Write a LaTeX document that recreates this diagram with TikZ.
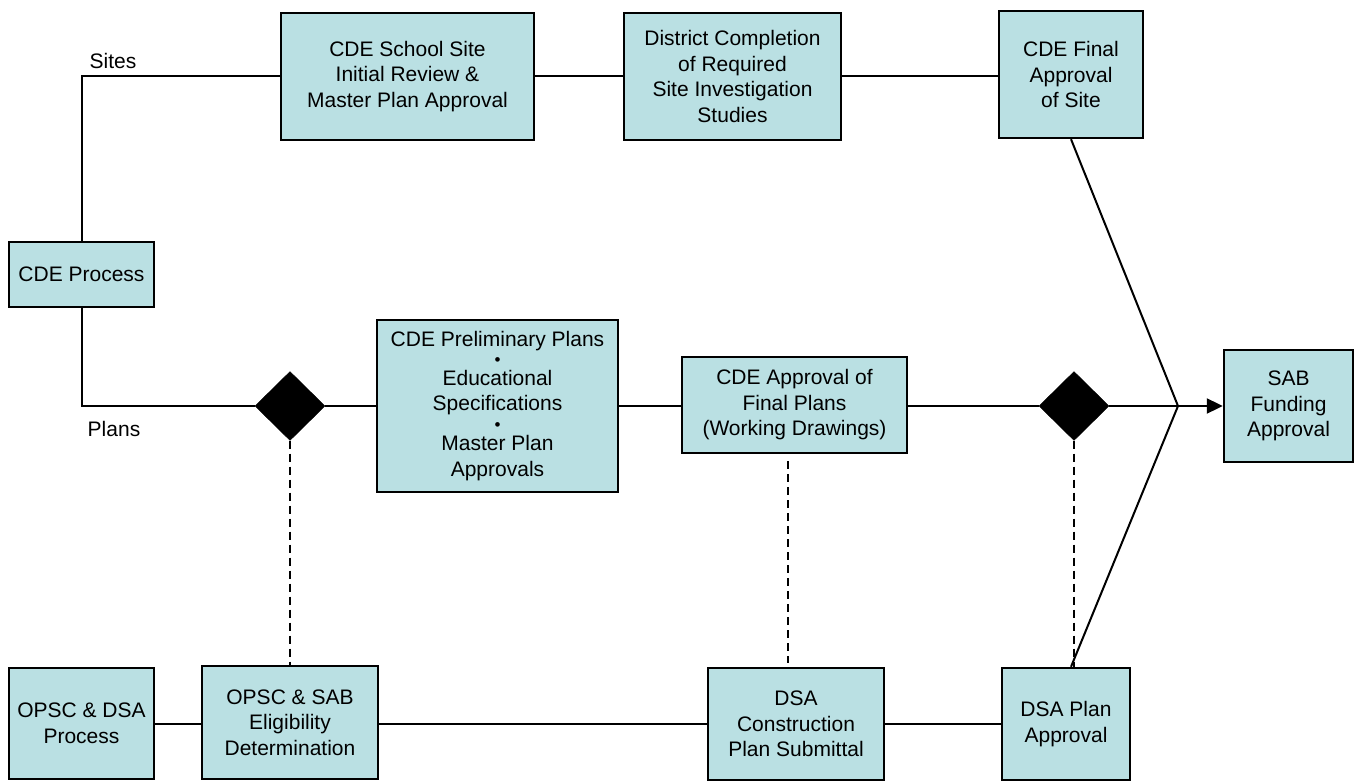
\documentclass[tikz,border=0pt]{standalone}
\usepackage{fontspec}
\setmainfont{Liberation Sans}
\usetikzlibrary{shapes.geometric,arrows.meta,calc}
\definecolor{boxfill}{RGB}{186,224,227}
\begin{document}
\begin{tikzpicture}[x=1pt,y=-1pt,
  box/.style={draw=black,line width=2.4pt,fill=boxfill,rectangle,inner sep=0pt,align=center,
    font=\fontsize{21}{25.5}\selectfont},
  dia/.style={diamond,fill=black,draw=black,inner sep=0pt,minimum width=70pt,minimum height=69pt},
  conn/.style={line width=2pt,draw=black},
  dashedconn/.style={line width=2pt,draw=black,dash pattern=on 8pt off 5pt},
  lbl/.style={font=\fontsize{21}{25.5}\selectfont,inner sep=0pt},
  bul/.style={}
]
\useasboundingbox (0,0) rectangle (1356,781);
\fill[white] (0,0) rectangle (1356,781);

% nodes
\node[box,minimum width=145pt,minimum height=65pt] (proc) at (81.5,274.5) {CDE Process};
\node[box,minimum width=253pt,minimum height=127pt] (site) at (407.5,76.5) {CDE School Site\\Initial Review \&\\Master Plan Approval};
\node[box,minimum width=217pt,minimum height=127pt] (dist) at (732.5,76.5) {District Completion\\of Required\\Site Investigation\\Studies};
\node[box,minimum width=144pt,minimum height=127pt] (final) at (1071,74.5) {CDE Final\\Approval\\of Site};
\node[dia] (d1) at (290,406) {};
\node[box,minimum width=241pt,minimum height=172pt] (prelim) at (497.5,406) {CDE Preliminary Plans\\[-6pt]{\fontsize{17}{17}\selectfont •}\\[-6pt]Educational\\Specifications\\[-6pt]{\fontsize{17}{17}\selectfont •}\\[-5pt]Master Plan\\Approvals};
\node[box,minimum width=225pt,minimum height=96pt] (appr) at (794.5,405) {CDE Approval of\\Final Plans\\(Working Drawings)};
\node[dia] (d2) at (1074,406) {};
\node[box,minimum width=129pt,minimum height=112pt] (sab) at (1288.5,406) {SAB\\Funding\\Approval};
\node[box,minimum width=145pt,minimum height=111pt] (opdsa) at (81.5,723.5) {OPSC \& DSA\\Process};
\node[box,minimum width=176pt,minimum height=113pt] (opsab) at (290,722.5) {OPSC \& SAB\\Eligibility\\Determination};
\node[box,minimum width=176pt,minimum height=112pt] (dsac) at (796,724) {DSA\\Construction\\Plan Submittal};
\node[box,minimum width=128pt,minimum height=112pt] (dsap) at (1066,724) {DSA Plan\\Approval};

\coordinate (j) at (1178,406);
\coordinate (dtop) at (788,452);
\coordinate (dbot) at (788,668);

% labels
\node[lbl] (sites) at (113,61) {Sites};
\node[lbl] (plans) at (114,429) {Plans};

% connectors
\draw[conn] (proc.north) |- (site.west);
\draw[conn] (proc.south) |- (d1.west);
\draw[conn] (site.east) -- (site.east -| dist.west);
\draw[conn] (dist.east) -- (dist.east -| final.west);
\draw[conn] (d1.east) -- (prelim.west);
\draw[conn] (prelim.east) -- (prelim.east -| appr.west);
\draw[conn] (appr.east |- d2.west) -- (d2.west);
\draw[conn] (d2.east) -- (j);
\draw[conn,-{Triangle[length=16pt,width=15pt]}] (j) -- (sab.west);
\draw[conn] (final.south) -- (j);
\draw[conn] (final.south |- dsap.north) -- (j);
\draw[conn] (opdsa.east) -- (opdsa.east -| opsab.west);
\draw[conn] (opsab.east |- dsac.west) -- (dsac.west);
\draw[conn] (dsac.east) -- (dsap.west);

\draw[dashedconn] (d1.south) -- (opsab.north);
\draw[dashedconn,shorten <=9pt,shorten >=5pt] (dtop) -- (dbot);
\draw[dashedconn] (d2.south) -- (d2.south |- dsap.north);
\end{tikzpicture}
\end{document}
